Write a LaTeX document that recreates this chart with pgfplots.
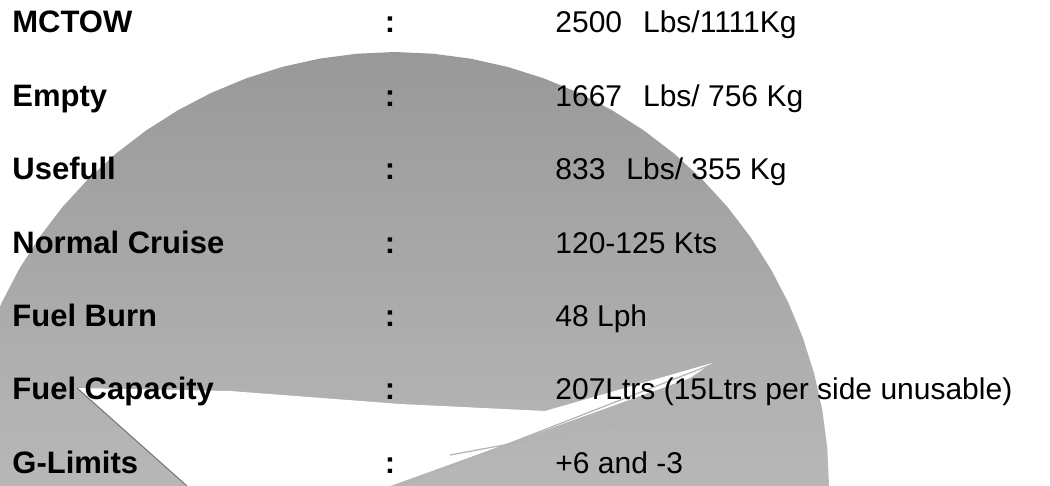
\documentclass[border=0pt]{standalone}
\usepackage{fontspec}
\setmainfont{Liberation Sans}
\usepackage{pgfplots}
\pgfplotsset{compat=1.18}
\begin{document}
\begin{tikzpicture}[
  lab/.style={anchor=base west,inner sep=0pt,font=\fontsize{15.5}{18}\selectfont\bfseries},
  val/.style={anchor=base west,inner sep=0pt,font=\fontsize{15}{18}\selectfont},
  col/.style={anchor=base,inner sep=0pt,font=\fontsize{15.5}{18}\selectfont\bfseries}]
\begin{axis}[x=0.5pt,y=0.5pt,xmin=0,xmax=1050,ymin=0,ymax=486,y dir=reverse,
  hide axis,clip=true]
\path (rel axis cs:0,0) rectangle (rel axis cs:1,1);
% stippled disk (pie)
\addplot[top color=black!40,bottom color=black!28,draw=none] coordinates {
(829,486) (827.3,448.2) (822.4,410.6) (814.2,373.7) (802.8,337.6) (788.3,302.6)
(770.8,269) (750.5,237.1) (727.5,207) (701.9,179.1) (674,153.5) (643.9,130.5)
(612,110.2) (578.4,92.7) (543.4,78.2) (507.3,66.8) (470.4,58.6) (432.8,53.7)
(395,52) (357.2,53.7) (319.6,58.6) (282.7,66.8) (246.6,78.2) (211.6,92.7)
(178,110.2) (146.1,130.5) (116,153.5) (88.1,179.1) (62.5,207) (39.5,237.1)
(19.2,269) (1.7,302.6) (-12.8,337.6) (-24.2,373.7) (-32.4,410.6) (-37.3,448.2)
(-39,486)} -- cycle;
% white missing slice
\addplot[fill=white,draw=none] coordinates {
(77,388) (230,391) (400,404) (545,411) (712,363) (690,378) (390,486) (187,486)} -- cycle;
\addplot[black!30,line width=0.6pt] coordinates {(400,486) (718,362)};
\addplot[black!30,line width=0.6pt] coordinates {(450,455) (650,418)};
\addplot[black!55,line width=0.5pt] coordinates {(77,388) (187,486)};
% labels
\node[lab] at (axis cs:12,33) {MCTOW};
\node[lab] at (axis cs:12,106.4) {Empty};
\node[lab] at (axis cs:12,179.8) {Usefull};
\node[lab] at (axis cs:12,253.2) {Normal Cruise};
\node[lab] at (axis cs:12,326.6) {Fuel Burn};
\node[lab] at (axis cs:12,400) {Fuel Capacity};
\node[lab] at (axis cs:12,473.4) {G-Limits};
\node[col] at (axis cs:390,33) {:};
\node[col] at (axis cs:390,106.4) {:};
\node[col] at (axis cs:390,179.8) {:};
\node[col] at (axis cs:390,253.2) {:};
\node[col] at (axis cs:390,326.6) {:};
\node[col] at (axis cs:390,400) {:};
\node[col] at (axis cs:390,473.4) {:};
\node[val] at (axis cs:555,33) {2500\hspace{0.7em}Lbs/1111Kg};
\node[val] at (axis cs:555,106.4) {1667\hspace{0.7em}Lbs/ 756 Kg};
\node[val] at (axis cs:555,179.8) {833\hspace{0.7em}Lbs/ 355 Kg};
\node[val] at (axis cs:555,253.2) {120-125 Kts};
\node[val] at (axis cs:555,326.6) {48 Lph};
\node[val] at (axis cs:555,400) {207Ltrs (15Ltrs per side unusable)};
\node[val] at (axis cs:555,473.4) {+6 and -3};
\end{axis}
\end{tikzpicture}
\end{document}
